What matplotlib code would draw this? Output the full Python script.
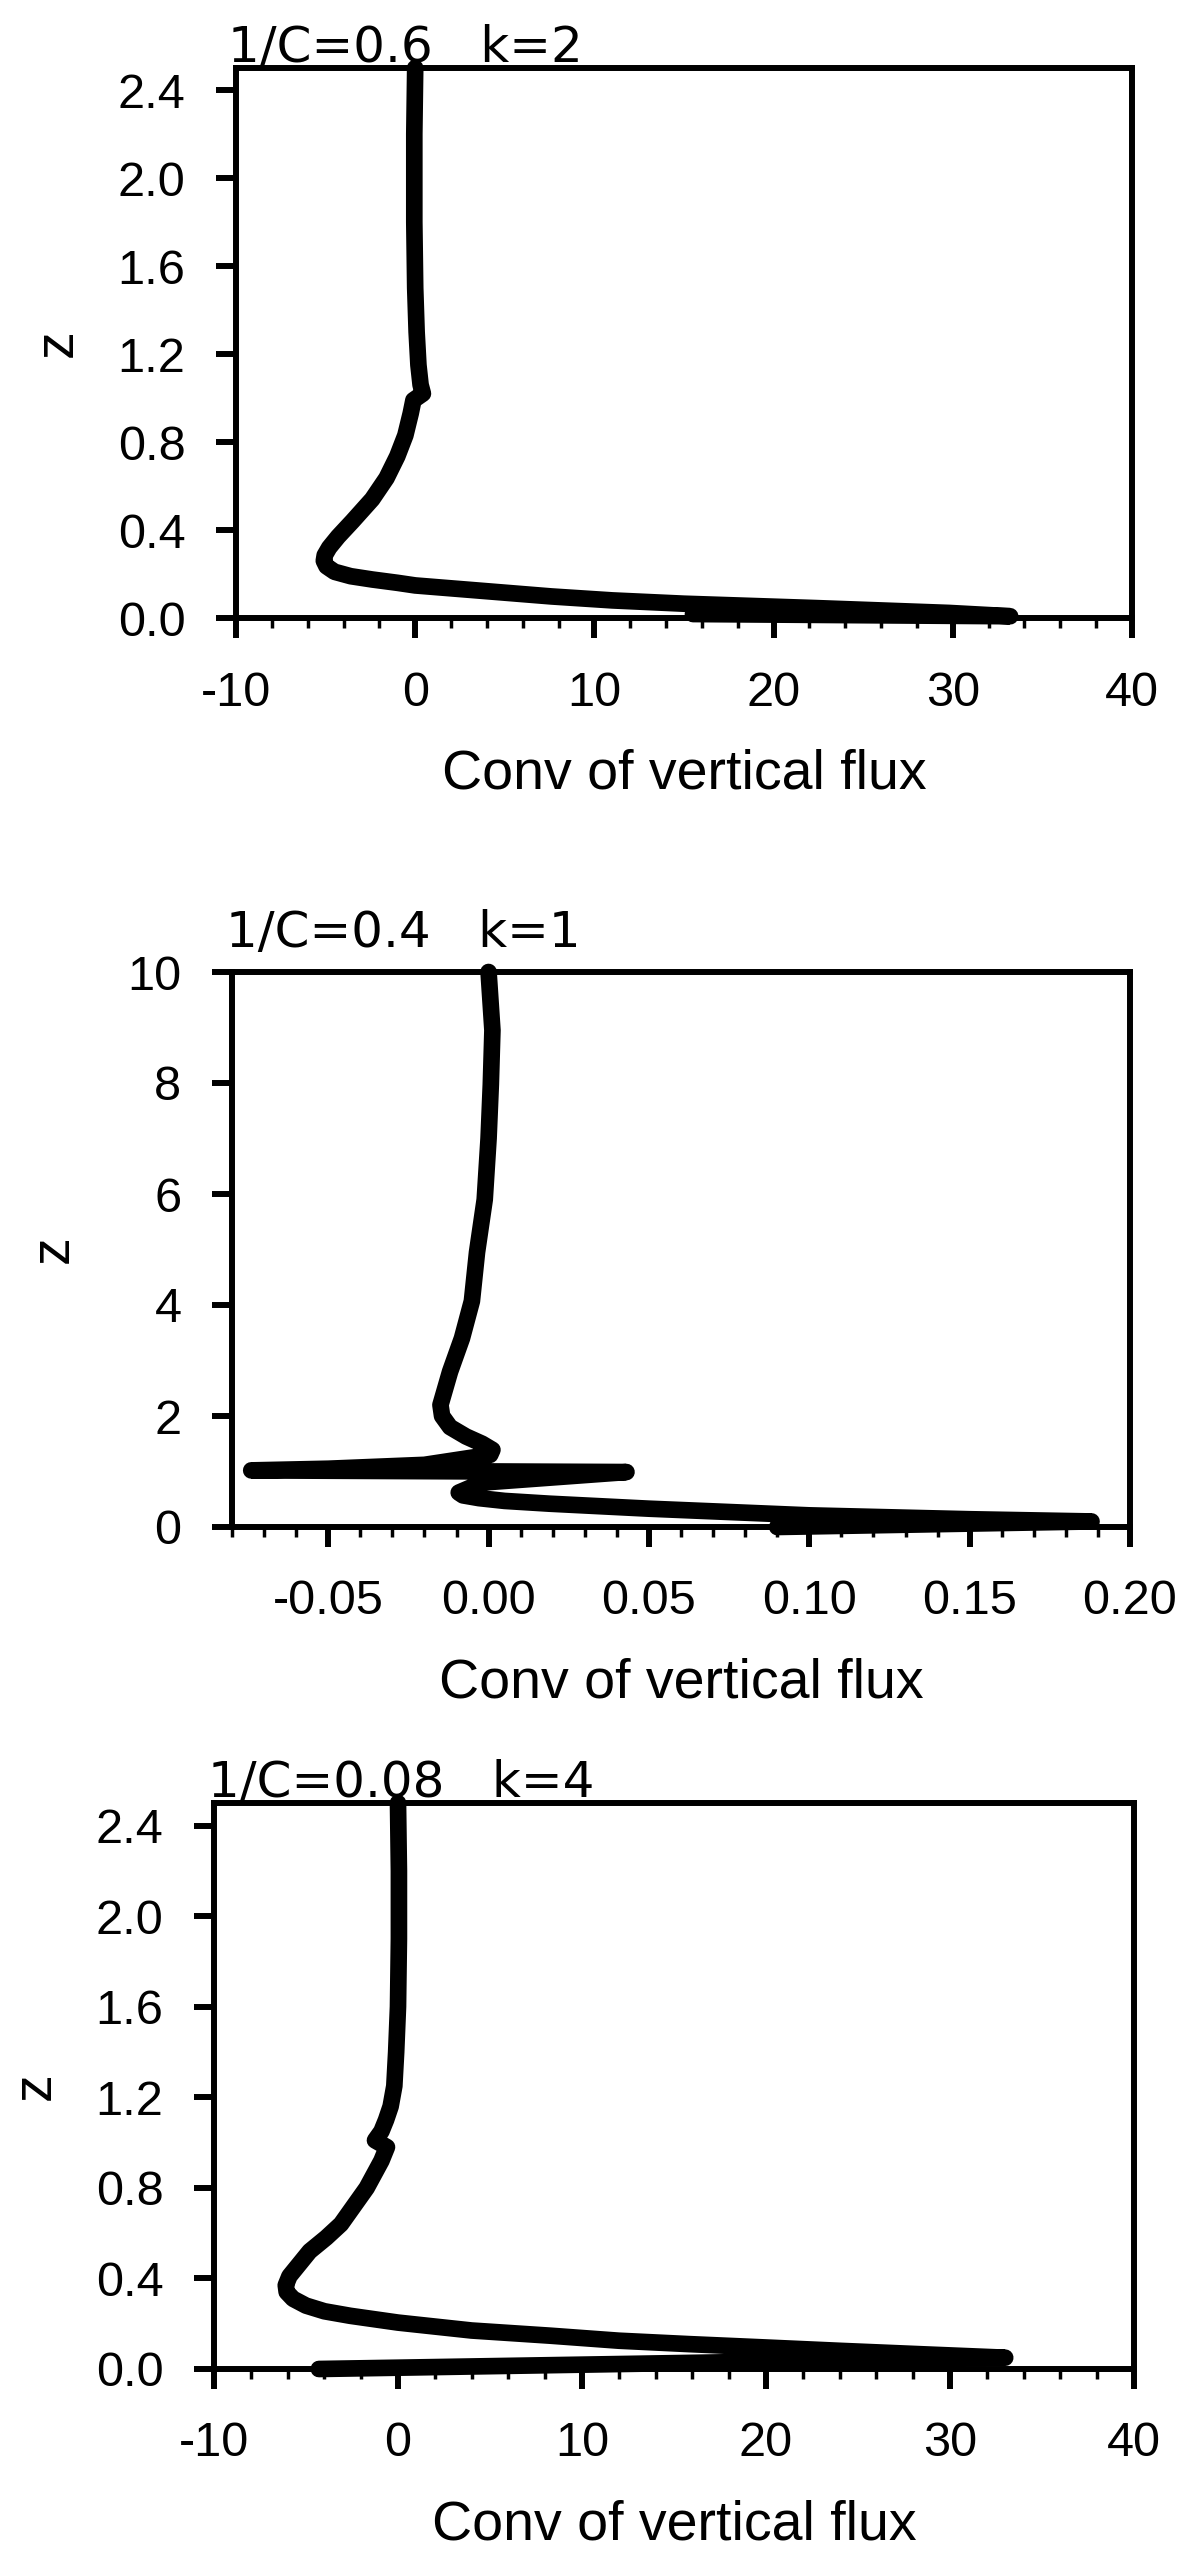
import matplotlib
matplotlib.use("Agg")
import matplotlib.pyplot as plt
from matplotlib.ticker import MultipleLocator, FormatStrFormatter

plt.rcParams['font.family'] = ['Liberation Sans', 'DejaVu Sans']
plt.rcParams['axes.unicode_minus'] = False

# Панель 1: 1/C=0.6, k=2 (сверху вниз)
p1_x = [0.0, -0.05, -0.05, 0.0, 0.08, 0.18, 0.3, 0.43, -0.1, -0.25, -0.55, -1.0, -1.6,
        -2.4, -3.5, -4.3, -4.8, -5.05, -5.1, -4.95, -4.5, -3.6, -2.4, -1.0, 0.0, 3.5,
        7.6, 11.0, 15.0, 22.4, 29.8, 33.2, 15.5]
p1_z = [2.5, 2.2, 1.8, 1.5, 1.3, 1.15, 1.06, 1.02, 0.99, 0.93, 0.83, 0.735, 0.636,
        0.54, 0.44, 0.37, 0.32, 0.285, 0.26, 0.235, 0.21, 0.19, 0.175, 0.16, 0.148, 0.125,
        0.098, 0.08, 0.065, 0.045, 0.023, 0.008, 0.018]

# Панель 2: 1/C=0.4, k=1
p2_x = [0.0, 0.0012, 0.0007, 0.0, -0.0012, -0.0036, -0.0052, -0.0083, -0.012, -0.015,
        -0.0145, -0.012, -0.007, -0.002, 0.0012, 0.0005, -0.02, -0.05, -0.074, 0.043,
        -0.002, -0.0093, -0.008, -0.003, 0.005, 0.019, 0.05, 0.1, 0.15, 0.188, 0.09]
p2_z = [10.0, 8.95, 7.97, 7.0, 5.9, 4.95, 4.07, 3.4, 2.8, 2.2,
        2.0, 1.8, 1.63, 1.5, 1.39, 1.3, 1.12, 1.05, 1.02, 0.99,
        0.8, 0.62, 0.57, 0.52, 0.47, 0.42, 0.33, 0.21, 0.14, 0.1, 0.0]

# Панель 3: 1/C=0.08, k=4
p3_x = [0.0, 0.05, 0.05, 0.0, -0.1, -0.2, -0.4, -0.65, -0.9, -1.25, -0.6, -0.9, -1.3,
        -1.7, -2.4, -3.1, -3.9, -4.8, -5.4, -5.9, -6.1, -6.05, -5.7, -5.0, -4.0, -2.6,
        0.0, 4.0, 8.3, 12.0, 15.8, 20.0, 24.1, 28.5, 33.0, -4.3]
p3_z = [2.5, 2.2, 1.9, 1.6, 1.4, 1.25, 1.16, 1.1, 1.05, 1.01, 0.98, 0.92, 0.86,
        0.8, 0.72, 0.64, 0.58, 0.52, 0.46, 0.41, 0.37, 0.34, 0.31, 0.28, 0.255, 0.235,
        0.205, 0.17, 0.147, 0.125, 0.11, 0.095, 0.08, 0.065, 0.05, 0.0]

titles = ["1/C=0.6   k=2", "1/C=0.4   k=1", "1/C=0.08   k=4"]
xlabel = "Conv of vertical flux"

W, H = 1200, 2564
fig = plt.figure(figsize=(W / 100, H / 100), dpi=100)

PT = 0.72  # пиксели -> пункты при dpi=100


def draw_panel(box, xs, zs, title, xlim, ylim, xmaj, xmin_, ymaj, xfmt, yfmt, title_dx, title_dy):
    left, top, right, bottom = box
    ax = fig.add_axes([left / W, (H - bottom) / H, (right - left) / W, (bottom - top) / H])
    ax.plot(xs, zs, color='black', lw=12, solid_capstyle='round',
            solid_joinstyle='round', clip_on=False, zorder=3)
    ax.set_xlim(*xlim)
    ax.set_ylim(*ylim)
    ax.xaxis.set_major_locator(MultipleLocator(xmaj))
    ax.xaxis.set_minor_locator(MultipleLocator(xmin_))
    ax.yaxis.set_major_locator(MultipleLocator(ymaj))
    ax.xaxis.set_major_formatter(FormatStrFormatter(xfmt))
    ax.yaxis.set_major_formatter(FormatStrFormatter(yfmt))
    for s in ax.spines.values():
        s.set_linewidth(4.3)
    ax.tick_params(axis='both', which='major', direction='out', length=14.4,
                   width=4.3, labelsize=35)
    ax.tick_params(axis='x', which='major', pad=23.4)
    ax.tick_params(axis='y', which='major', pad=22)
    ax.tick_params(axis='x', which='minor', direction='out', length=7.2, width=2.5)
    ax.set_xlabel(xlabel, fontsize=40, labelpad=24)
    ax.annotate('z', xy=(0, 0.5), xycoords='axes fraction',
                xytext=(-178 * PT, 0), textcoords='offset points',
                rotation=90, ha='center', va='center', fontsize=40)
    ax.annotate(title, xy=(0, 1), xycoords='axes fraction',
                xytext=(title_dx * PT, title_dy * PT), textcoords='offset points',
                ha='left', va='baseline', fontsize=36, family='DejaVu Sans')
    return ax


draw_panel((236, 68, 1132, 618), p1_x, p1_z, titles[0], (-10, 40), (0, 2.5),
           10, 2, 0.4, '%d', '%.1f', -8.5, 6)
draw_panel((232, 972, 1130, 1527), p2_x, p2_z, titles[1], (-0.08, 0.20), (0, 10),
           0.05, 0.01, 2, '%.2f', '%d', -5.5, 25)
draw_panel((214, 1803, 1134, 2369), p3_x, p3_z, titles[2], (-10, 40), (0, 2.5),
           10, 2, 0.4, '%d', '%.1f', -6.5, 6)

fig.savefig("out.png", dpi=100)
